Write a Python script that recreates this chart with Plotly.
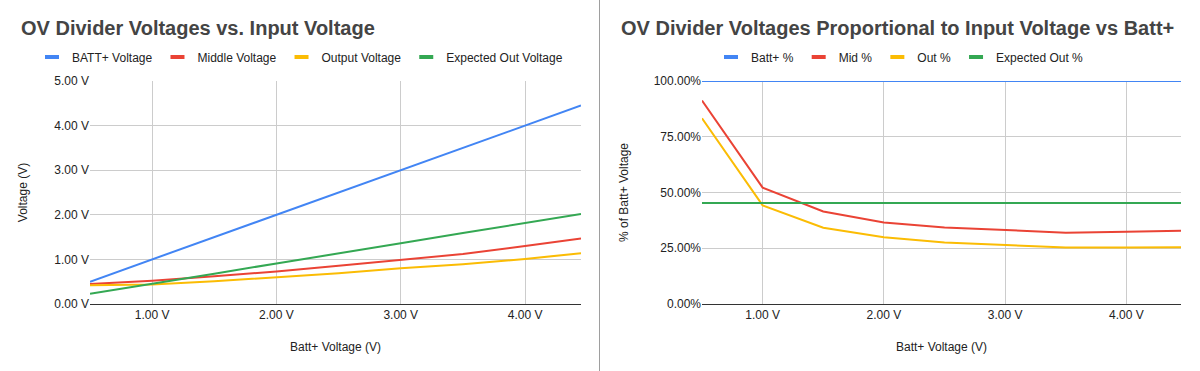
import plotly.graph_objects as go

# ---- data ----
batt_v = [0.5, 1.0, 1.5, 2.0, 2.5, 3.0, 3.5, 4.0, 4.45]

# left chart (volts)
batt_voltage = [0.5, 1.0, 1.5, 2.0, 2.5, 3.0, 3.5, 4.0, 4.45]
middle_voltage = [0.45, 0.52, 0.62, 0.73, 0.86, 0.99, 1.12, 1.30, 1.47]
output_voltage = [0.42, 0.44, 0.51, 0.60, 0.69, 0.80, 0.89, 1.01, 1.14]
expected_voltage = [0.23, 0.45, 0.68, 0.91, 1.13, 1.36, 1.59, 1.81, 2.02]

# right chart (fraction of Batt+)
batt_pct = [1.0, 1.0, 1.0, 1.0, 1.0, 1.0, 1.0, 1.0, 1.0]
mid_pct = [0.912, 0.522, 0.415, 0.365, 0.343, 0.330, 0.320, 0.324, 0.329]
out_pct = [0.833, 0.442, 0.342, 0.299, 0.276, 0.266, 0.253, 0.253, 0.254]
exp_pct = [0.453, 0.453, 0.453, 0.453, 0.453, 0.453, 0.453, 0.453, 0.453]

left_names = ["BATT+ Voltage", "Middle Voltage", "Output Voltage", "Expected Out Voltage"]
right_names = ["Batt+ %", "Mid %", "Out %", "Expected Out %"]
colors = ["#4285F4", "#EA4335", "#FBBC04", "#34A853"]

x_tickvals = [1, 2, 3, 4]
x_ticktext = ["1.00 V", "2.00 V", "3.00 V", "4.00 V"]
left_yvals = [0, 1, 2, 3, 4, 5]
left_ytext = ["0.00 V", "1.00 V", "2.00 V", "3.00 V", "4.00 V", "5.00 V"]
right_yvals = [0, 0.25, 0.5, 0.75, 1.0]
right_ytext = ["0.00%", "25.00%", "50.00%", "75.00%", "100.00%"]

FONT = "Liberation Sans, Arial, sans-serif"

fig = go.Figure()

left_series = [batt_voltage, middle_voltage, output_voltage, expected_voltage]
right_series = [batt_pct, mid_pct, out_pct, exp_pct]

for name, ys, c in zip(left_names, left_series, colors):
    fig.add_trace(go.Scatter(x=batt_v, y=ys, mode="lines", name=name,
                             line=dict(color=c, width=2), xaxis="x", yaxis="y",
                             showlegend=False))
    fig.add_trace(go.Scatter(x=[None], y=[None], mode="markers", name=name,
                             marker=dict(symbol="line-ew", size=10,
                                         line=dict(color=c, width=4)),
                             xaxis="x", yaxis="y", legend="legend"))

for name, ys, c in zip(right_names, right_series, colors):
    fig.add_trace(go.Scatter(x=batt_v, y=ys, mode="lines", name=name,
                             line=dict(color=c, width=2), xaxis="x2", yaxis="y2",
                             showlegend=False))
    fig.add_trace(go.Scatter(x=[None], y=[None], mode="markers", name=name,
                             marker=dict(symbol="line-ew", size=10,
                                         line=dict(color=c, width=4)),
                             xaxis="x2", yaxis="y2", legend="legend2"))

ydom = [1 - 304 / 371, 1 - 81 / 371]
tickfont = dict(family=FONT, size=12, color="#222222")
titlefont = dict(family=FONT, size=12, color="#222222")

common_x = dict(range=[0.5, 4.45], tickvals=x_tickvals, ticktext=x_ticktext,
                showgrid=True, gridcolor="#cccccc", gridwidth=1, zeroline=False,
                showline=True, linecolor="#333333", linewidth=1, ticks="",
                tickfont=tickfont, fixedrange=True, automargin=False)

fig.update_layout(
    width=1200, height=371,
    margin=dict(l=0, r=0, t=0, b=0, autoexpand=False),
    paper_bgcolor="white", plot_bgcolor="white",
    font=dict(family=FONT, size=12, color="#222222"),
    xaxis=dict(domain=[90 / 1200, 581 / 1200], anchor="y",
               title=dict(text="Batt+ Voltage (V)", font=titlefont, standoff=21),
               **common_x),
    yaxis=dict(domain=ydom, anchor="x", range=[0, 5], tickvals=left_yvals,
               ticktext=left_ytext, showgrid=True, gridcolor="#cccccc",
               zeroline=False, ticks="", tickfont=tickfont, automargin=False,
               fixedrange=True,
               title=dict(text="Voltage (V)", font=titlefont, standoff=24)),
    xaxis2=dict(domain=[702 / 1200, 1181 / 1200], anchor="y2",
                title=dict(text="Batt+ Voltage (V)", font=titlefont, standoff=21),
                **common_x),
    yaxis2=dict(domain=ydom, anchor="x2", range=[0, 1], tickvals=right_yvals,
                ticktext=right_ytext, showgrid=True, gridcolor="#cccccc",
                zeroline=False, ticks="", tickfont=tickfont, automargin=False,
                fixedrange=True,
                title=dict(text="% of Batt+ Voltage", font=titlefont, standoff=22)),
    legend=dict(orientation="h", x=0.25, xanchor="center", y=1 - 57 / 371,
                yanchor="middle", font=dict(family=FONT, size=12, color="#222222"),
                bgcolor="rgba(0,0,0,0)", itemclick=False, itemdoubleclick=False),
    legend2=dict(orientation="h", x=0.75, xanchor="center", y=1 - 57 / 371,
                 yanchor="middle", font=dict(family=FONT, size=12, color="#222222"),
                 bgcolor="rgba(0,0,0,0)", itemclick=False, itemdoubleclick=False),
    annotations=[
        dict(text="<b>OV Divider Voltages vs. Input Voltage</b>", xref="paper", yref="paper",
             x=19 / 1200, y=1 - 28 / 371, xanchor="left", yanchor="middle", showarrow=False,
             font=dict(family=FONT, size=20, color="#444444")),
        dict(text="<b>OV Divider Voltages Proportional to Input Voltage vs Batt+</b>",
             xref="paper", yref="paper",
             x=619 / 1200, y=1 - 28 / 371, xanchor="left", yanchor="middle", showarrow=False,
             font=dict(family=FONT, size=20, color="#444444")),
    ],
    shapes=[
        dict(type="line", xref="paper", yref="paper", x0=599.5 / 1200, x1=599.5 / 1200,
             y0=0, y1=1, line=dict(color="#9e9e9e", width=1)),
    ],
)

fig.write_html("out.html", config={"displayModeBar": False},
               post_script="document.body.style.margin='0';document.body.style.overflow='hidden';")
